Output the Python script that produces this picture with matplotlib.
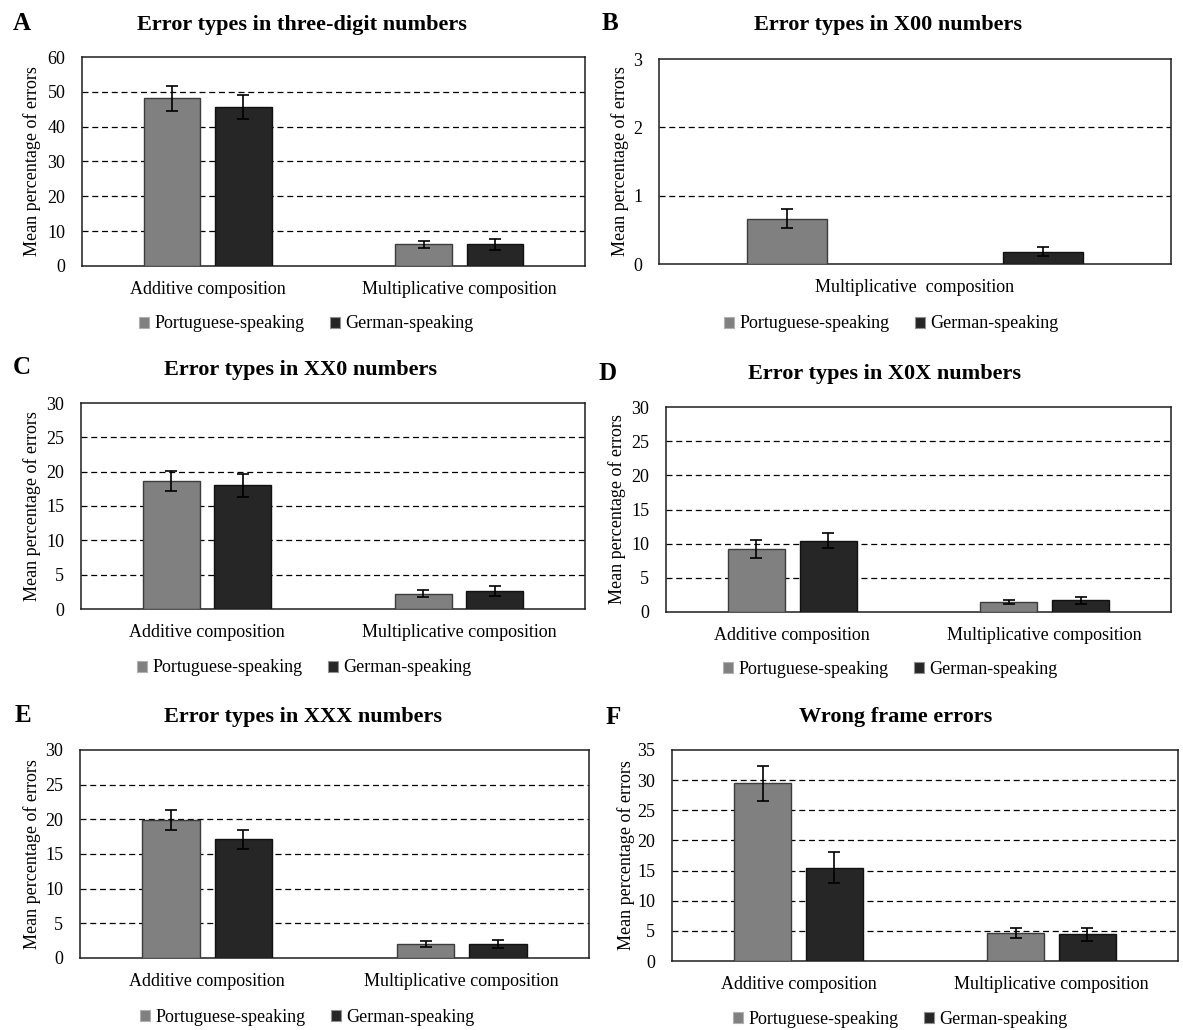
import matplotlib
matplotlib.use("Agg")
import matplotlib.pyplot as plt
from matplotlib.patches import Patch

# ---- data -------------------------------------------------------------
categories = ["Additive composition", "Multiplicative composition"]
series = ["Portuguese-speaking", "German-speaking"]

# A: three-digit numbers
a_port = [48.2, 6.2]
a_port_err = [3.6, 1.1]
a_germ = [45.7, 6.2]
a_germ_err = [3.4, 1.5]

# B: X00 numbers (multiplicative only)
b_category = ["Multiplicative  composition"]
b_port = [0.66]
b_port_err = [0.14]
b_germ = [0.18]
b_germ_err = [0.07]

# C: XX0 numbers
c_port = [18.7, 2.2]
c_port_err = [1.45, 0.5]
c_germ = [18.0, 2.6]
c_germ_err = [1.65, 0.75]

# D: X0X numbers
d_port = [9.25, 1.5]
d_port_err = [1.3, 0.3]
d_germ = [10.4, 1.7]
d_germ_err = [1.1, 0.5]

# E: XXX numbers
e_port = [19.9, 2.0]
e_port_err = [1.45, 0.4]
e_germ = [17.1, 2.0]
e_germ_err = [1.4, 0.55]

# F: wrong frame errors
f_port = [29.5, 4.6]
f_port_err = [2.9, 0.8]
f_germ = [15.5, 4.4]
f_germ_err = [2.5, 1.15]

# ---- styling ----------------------------------------------------------
plt.rcParams["font.family"] = ["Liberation Serif", "DejaVu Serif"]
W, H = 1183, 1030
fig = plt.figure(figsize=(W / 100, H / 100), dpi=100)

PORT_FC, PORT_EC = "#808080", "#3c3c3c"
GERM_FC, GERM_EC = "#262626", "#111111"
FS = 13


def fx(px):
    return px / W


def fy(py):
    return 1 - py / H


def make_axes(l, t, r, b):
    return fig.add_axes([fx(l), fy(b), fx(r - l), (b - t) / H])


def draw_panel(box, letter, letter_xy, title, title_xy, ylabel_x,
               cats, port, port_err, germ, germ_err, ymax, ystep,
               legend_xy, single=False):
    l, t, r, b = box
    ax = make_axes(l, t, r, b)
    n = len(cats)
    xs = list(range(n))
    if single:
        off, width = 0.25, 0.155
        ax.set_xlim(-0.5, 0.5)
    else:
        off, width = 0.142, 0.225
        ax.set_xlim(-0.5, n - 0.5)
    ekw = dict(ecolor="black", elinewidth=1.2, capsize=4.5, capthick=1.2)
    ax.bar([x - off for x in xs], port, width, color=PORT_FC,
           edgecolor=PORT_EC, linewidth=1.0, yerr=port_err,
           error_kw=ekw, zorder=3)
    ax.bar([x + off for x in xs], germ, width, color=GERM_FC,
           edgecolor=GERM_EC, linewidth=1.0, yerr=germ_err,
           error_kw=ekw, zorder=3)
    ax.set_ylim(0, ymax)
    ticks = [v * ystep for v in range(int(round(ymax / ystep)) + 1)]
    ax.set_yticks(ticks)
    # dashed reference lines at the inner ticks only
    for v in ticks[1:-1]:
        ax.axhline(v, color="black", linewidth=0.9,
                   linestyle=(0, (4.8, 3.0)), zorder=1)
    ax.set_xticks(xs)
    ax.set_xticklabels(cats)
    ax.tick_params(axis="both", length=0, labelsize=FS)
    ax.tick_params(axis="y", pad=12)
    ax.tick_params(axis="x", pad=11)
    for s in ax.spines.values():
        s.set_color("#1e1e1e")
        s.set_linewidth(1.1)
    fig.text(fx(letter_xy[0]), fy(letter_xy[1]), letter, fontsize=18,
             fontweight="bold", ha="center", va="center")
    fig.text(fx(title_xy[0]), fy(title_xy[1]), title, fontsize=16,
             fontweight="bold", ha="center", va="center")
    fig.text(fx(ylabel_x), fy((t + b) / 2), "Mean percentage of errors",
             fontsize=FS, rotation=90, ha="center", va="center")
    handles = [Patch(facecolor=PORT_FC, edgecolor="#b0b0b0", linewidth=0.8),
               Patch(facecolor=GERM_FC, edgecolor="#909090", linewidth=0.8)]
    fig.legend(handles, series, loc="center",
               bbox_to_anchor=(fx(legend_xy[0]), fy(legend_xy[1])),
               ncol=2, frameon=False, fontsize=FS, handlelength=0.55,
               handleheight=0.55, handletextpad=0.3, columnspacing=1.4,
               borderaxespad=0, borderpad=0)
    return ax


draw_panel((82, 57, 585, 266), "A", (22, 23),
           "Error types in three-digit numbers", (302, 25), 32,
           categories, a_port, a_port_err, a_germ, a_germ_err, 60, 10,
           (306, 324))

draw_panel((659, 59, 1171, 264), "B", (610, 23),
           "Error types in X00 numbers", (888, 25), 620,
           b_category, b_port, b_port_err, b_germ, b_germ_err, 3, 1,
           (891, 324), single=True)

draw_panel((81, 403, 585, 609), "C", (22, 368),
           "Error types in XX0 numbers", (301, 370), 32,
           categories, c_port, c_port_err, c_germ, c_germ_err, 30, 5,
           (304, 668))

draw_panel((666, 407, 1171, 612), "D", (608, 374),
           "Error types in X0X numbers", (885, 374), 617,
           categories, d_port, d_port_err, d_germ, d_germ_err, 30, 5,
           (890, 669))

draw_panel((80, 750, 589, 958), "E", (23, 716),
           "Error types in XXX numbers", (303, 717), 32,
           categories, e_port, e_port_err, e_germ, e_germ_err, 30, 5,
           (307, 1017))

draw_panel((672, 750, 1178, 961), "F", (613, 717),
           "Wrong frame errors", (896, 717), 626,
           categories, f_port, f_port_err, f_germ, f_germ_err, 35, 5,
           (900, 1019))

fig.savefig("out.png", dpi=100, facecolor="white")
